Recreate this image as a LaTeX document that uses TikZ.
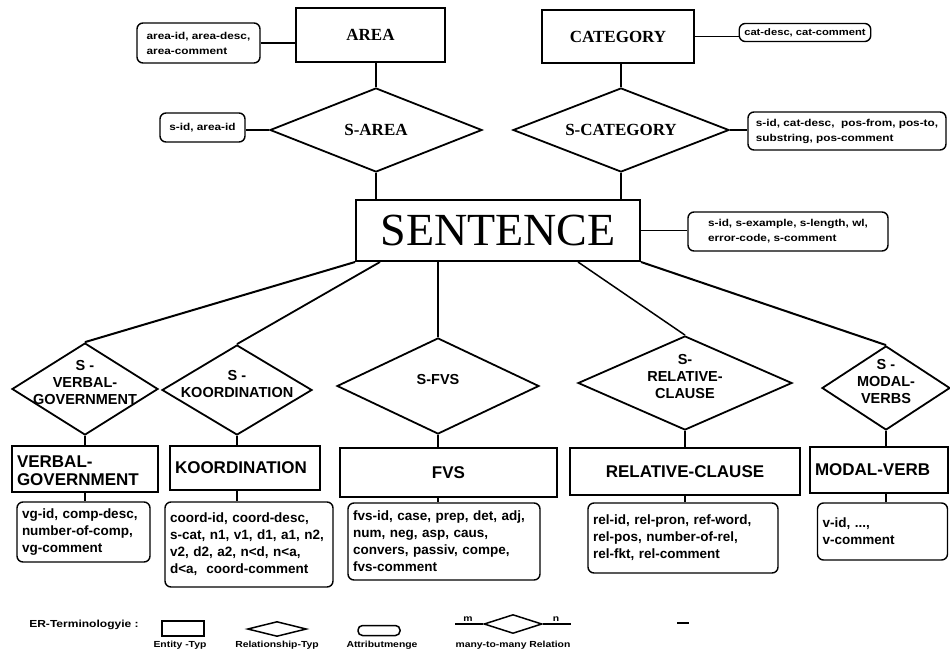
\documentclass[tikz,border=0pt]{standalone}
\usepackage{fontspec}
\setmainfont{Liberation Serif}
\newfontfamily\sansf{Liberation Sans}
\newfontfamily\attrf{Liberation Sans}[FakeStretch=1.18]
\usetikzlibrary{shapes.geometric,calc}
\begin{document}
\begin{tikzpicture}[x=1pt,y=-1pt,
  ent/.style={draw,line width=2pt,inner sep=4pt},
  topent/.style={ent,font=\fontsize{17}{20}\selectfont\bfseries},
  botent/.style={ent,font=\sansf\fontsize{17}{18}\selectfont\bfseries,inner xsep=5pt},
  rel/.style={draw,diamond,line width=1.8pt,inner sep=0pt},
  toprel/.style={font=\fontsize{17}{20}\selectfont\bfseries},
  dtext/.style={font=\sansf\fontsize{14.5}{17}\selectfont\bfseries,align=center,yshift=6pt,inner sep=0pt},
  attr/.style={draw,rounded corners=6pt,line width=1.4pt,inner xsep=5pt,inner ysep=2pt,align=left},
  tattr/.style={attr,font=\attrf\fontsize{10}{15}\selectfont\bfseries},
  battr/.style={attr,font=\sansf\fontsize{13.5}{17}\selectfont\bfseries},
  conn/.style={line width=1.8pt},
  legtext/.style={font=\attrf\fontsize{8.8}{10}\selectfont\bfseries,inner sep=0pt}
]
\useasboundingbox (0,0) rectangle (950,651);

% ---------- top part ----------
\node[topent,minimum width=149pt,minimum height=54pt] (area) at (370.5,35) {AREA};
\node[tattr,minimum width=123pt,minimum height=40pt] (aattr) at (198.5,43) {area-id, area-desc,\\area-comment};
\node[topent,minimum width=152pt,minimum height=53pt] (cat) at (618,36.5) {CATEGORY};
\node[attr,font=\attrf\fontsize{9.5}{11}\selectfont\bfseries,minimum width=130pt,minimum height=18pt,inner ysep=1pt] (cattr) at (805,32.5) {cat-desc, cat-comment};

\node[rel,minimum width=212pt,minimum height=84pt] (sarea) at (376,130) {};
\node[toprel] (sareat) at (sarea) {S-AREA};
\node[tattr,minimum width=85pt,minimum height=29pt] (saattr) at (202.5,127.5) {s-id, area-id};

\node[rel,minimum width=216pt,minimum height=84pt] (scat) at (621,130) {};
\node[toprel] (scatt) at (scat) {S-CATEGORY};
\node[tattr,minimum width=198pt,minimum height=38pt,inner xsep=3pt] (scattr) at (847,131) {s-id, cat-desc,\ \ pos-from, pos-to,\\substring, pos-comment};

\node[ent,font=\fontsize{46}{50}\selectfont,minimum width=284pt,minimum height=61pt] (sent) at (498,230.5) {SENTENCE};
\node[tattr,minimum width=200pt,minimum height=39pt] (sattr) at (788,231.5) {s-id, s-example, s-length, wl,\\error-code, s-comment};

\draw[conn] (aattr.east) -- (aattr.east -| area.west);
\draw[conn] (sarea.north |- area.south) -- (sarea.north);
\draw[conn] (saattr.east |- sarea.west) -- (sarea.west);
\draw[conn] (sarea.south) -- (sarea.south |- sent.north);
\draw[conn] (cat.east) -- (cat.east -| cattr.west);
\draw[conn] (scat.north |- cat.south) -- (scat.north);
\draw[conn] (scat.east) -- (scat.east -| scattr.west);
\draw[conn] (scat.south) -- (scat.south |- sent.north);
\draw[conn] (sent.east) -- (sent.east -| sattr.west);

% ---------- relationships below ----------
\node[rel,minimum width=146pt,minimum height=92pt] (vgd) at (85,389) {};
\node[dtext] (vgt) at (vgd) {S -\\VERBAL-\\GOVERNMENT};
\node[rel,minimum width=150pt,minimum height=90pt] (kod) at (237,390) {};
\node[dtext] (kot) at (kod) {S -\\KOORDINATION};
\node[rel,minimum width=202pt,minimum height=96pt] (fvsd) at (438,386) {};
\node[dtext] (fvst) at (fvsd) {S-FVS};
\node[rel,minimum width=214pt,minimum height=94pt] (rcd) at (685,383) {};
\node[dtext] (rct) at (rcd) {S-\\RELATIVE-\\CLAUSE};
\node[rel,minimum width=128pt,minimum height=84pt] (mvd) at (886,388) {};
\node[dtext] (mvt) at (mvd) {S -\\MODAL-\\VERBS};

\draw[line width=2pt] (sent.south west) -- (vgd.north);
\draw[line width=1.8pt] ($(sent.south west)+(25,0)$) -- (kod.north);
\draw[line width=1.1pt] (fvsd.north |- sent.south) -- (fvsd.north);
\draw[line width=1.5pt] ($(sent.south east)+(-63,0)$) -- (rcd.north);
\draw[line width=2pt] (sent.south east) -- (mvd.north);

% ---------- entities below ----------
\node[botent,minimum width=146pt,minimum height=46pt,text width=136pt,align=left,font=\sansf\fontsize{17}{18.5}\selectfont\bfseries] (vge) at (85,469) {\rule{0pt}{15pt}VERBAL-\\GOVERNMENT};
\node[botent,minimum width=150pt,minimum height=44pt,text width=140pt,align=left] (koe) at (245,468) {KOORDINATION};
\node[botent,minimum width=217pt,minimum height=49pt,align=center] (fvse) at (448.5,472.5) {FVS};
\node[botent,minimum width=230pt,minimum height=47pt,align=center] (rce) at (685,471.5) {RELATIVE-CLAUSE};
\node[botent,minimum width=138pt,minimum height=46pt,text width=128pt,align=left] (mve) at (879,470) {MODAL-VERB};

% ---------- attributes below ----------
\node[battr,minimum width=133pt,minimum height=60pt,text width=123pt] (vga) at (83.5,532) {vg-id, comp-desc,\\number-of-comp,\\vg-comment};
\node[battr,minimum width=168pt,minimum height=85pt,text width=158pt] (koa) at (249,544.5) {coord-id, coord-desc,\\s-cat, n1, v1, d1, a1, n2,\\v2, d2, a2, n<d, n<a,\\d<a,\ \ coord-comment};
\node[battr,minimum width=192pt,minimum height=77pt,text width=182pt] (fvsa) at (444,541.5) {fvs-id, case, prep, det, adj,\\num, neg, asp, caus,\\convers, passiv, compe,\\fvs-comment};
\node[battr,minimum width=190pt,minimum height=70pt,text width=180pt] (rca) at (683,538) {rel-id, rel-pron, ref-word,\\rel-pos, number-of-rel,\\rel-fkt, rel-comment};
\node[battr,minimum width=130pt,minimum height=57pt,text width=120pt] (mva) at (882.5,531.5) {v-id, ...,\\v-comment};

\foreach \d/\e/\a in {vgd/vge/vga,kod/koe/koa,fvsd/fvse/fvsa,rcd/rce/rca,mvd/mve/mva}{
  \draw[line width=1.6pt] (\d.south) -- (\d.south |- \e.north);
  \draw[line width=1.6pt] (\e.south -| \d.south) -- (\a.north -| \d.south);
}

% ---------- legend ----------
\node[font=\attrf\fontsize{10.2}{12}\selectfont\bfseries,inner sep=0pt] (ert) at (84,625) {ER-Terminologyie :};
\node[draw,line width=1.5pt,minimum width=42pt,minimum height=15pt,inner sep=0pt] (lent) at (183,628.5) {};
\node[legtext] (lentt) at (180,645) {Entity -Typ};
\node[draw,diamond,line width=1.5pt,minimum width=59pt,minimum height=15pt,inner sep=0pt] (lrel) at (277,629) {};
\node[legtext] (lrelt) at (277,645) {Relationship-Typ};
\node[draw,rounded corners=4.5pt,line width=1.5pt,minimum width=42pt,minimum height=10pt,inner sep=0pt] (latt) at (379,630.5) {};
\node[legtext] (lattt) at (382,645) {Attributmenge};
\node[draw,diamond,line width=1.5pt,minimum width=58pt,minimum height=19pt,inner sep=0pt] (lmm) at (513,624) {};
\coordinate (lmma) at (455,624);
\coordinate (lmmb) at (571,624);
\draw[line width=1.5pt] (lmma) -- (lmm.west);
\draw[line width=1.5pt] (lmm.east) -- (lmmb);
\node[legtext,anchor=south] (lm) at (468,622) {m};
\node[legtext,anchor=south] (ln) at (556,622) {n};
\node[legtext] (lmmt) at (513,645) {many-to-many Relation};
\coordinate (dasha) at (677,623);
\coordinate (dashb) at (689,623);
\draw[line width=1.2pt] (dasha) -- (dashb);
\end{tikzpicture}
\end{document}
